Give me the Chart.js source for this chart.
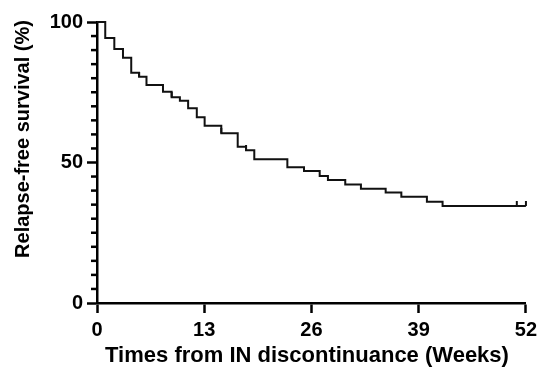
<!DOCTYPE html>
<html>
<head>
<meta charset="utf-8">
<script src="https://cdn.jsdelivr.net/npm/chart.js@4.4.1/dist/chart.umd.min.js"></script>
<style>
  html, body { margin: 0; padding: 0; background: #fff; }
  #kmChart { display: block; }
</style>
</head>
<body>
<canvas id="kmChart" width="542" height="377"></canvas>
<script>
// ========== DATA ==========
const weeks    = [0, 1.0, 2.1, 3.15, 4.15, 5.1, 6.0, 8.0, 9.05, 10.05, 11.05, 12.1, 13.05, 15.07, 17.06, 18.07, 19.07, 23.08, 25.1, 27.0, 28.0, 30.1, 32.0, 35.0, 36.9, 40.0, 41.9, 52];
const survival = [100, 94.3, 90.4, 87.3, 81.9, 80.5, 77.6, 75.2, 73.2, 72.0, 69.3, 66.1, 63.1, 60.4, 55.6, 54.4, 51.2, 48.3, 47.0, 45.2, 43.8, 42.2, 40.7, 39.3, 37.8, 36.0, 34.5, 34.5];
const censorWeeks    = [5.1, 9.05, 15.07, 18.07, 50.9, 52];
const censorSurvival = [80.5, 73.2, 60.4, 54.4, 34.5, 34.5];
const xTicks = [0, 13, 26, 39, 52];
const yTicks = [0, 50, 100];
const xTitle = 'Times from IN discontinuance (Weeks)';
const yTitle = 'Relapse-free survival (%)';

const FONT = "'Liberation Sans', Arial, Helvetica, sans-serif";

// small upward tick used for censored subjects
function censorMark() {
    const c = document.createElement('canvas');
    c.width = 4; c.height = 10;
    const g = c.getContext('2d');
    g.strokeStyle = '#111';
    g.lineWidth = 2;
    g.beginPath();
    g.moveTo(2, 0);
    g.lineTo(2, 5);
    g.stroke();
    return c;
}

// ========== MINOR TICKS + AXIS TITLES ==========
const decorPlugin = {
    id: 'decor',
    afterDraw(chart) {
        const { ctx, chartArea, scales } = chart;
        ctx.save();
        ctx.strokeStyle = '#000';
        ctx.lineWidth = 2.5;
        for (let v = 5; v < 100; v += 5) {
            if (v % 50 === 0) continue;
            const y = scales.y.getPixelForValue(v);
            ctx.beginPath();
            ctx.moveTo(chartArea.left, y);
            ctx.lineTo(chartArea.left - 6, y);
            ctx.stroke();
        }
        ctx.fillStyle = '#000';
        ctx.textAlign = 'center';
        ctx.textBaseline = 'middle';
        ctx.font = 'bold 22px ' + FONT;
        ctx.fillText(xTitle, 307, 356);
        ctx.translate(23, 139);
        ctx.rotate(-Math.PI / 2);
        ctx.font = 'bold 20px ' + FONT;
        ctx.fillText(yTitle, 0, 0);
        ctx.restore();
    }
};

// ========== CHART ==========
const ctx = document.getElementById('kmChart').getContext('2d');
new Chart(ctx, {
    type: 'line',
    data: {
        datasets: [{
            data: weeks.map((w, i) => ({ x: w, y: survival[i] })),
            stepped: 'before',
            borderColor: '#111',
            borderWidth: 2,
            pointRadius: 0,
            fill: false,
            clip: false
        }, {
            type: 'scatter',
            data: censorWeeks.map((w, i) => ({ x: w, y: censorSurvival[i] })),
            pointStyle: censorMark(),
            pointRadius: 5,
            clip: false
        }]
    },
    options: {
        responsive: false,
        animation: false,
        devicePixelRatio: 1,
        layout: { padding: { top: 22, right: 14, left: 0, bottom: 0 } },
        plugins: { legend: { display: false }, tooltip: { enabled: false } },
        scales: {
            x: {
                type: 'linear',
                min: 0, max: 52,
                afterFit: s => { s.height = 74; },
                afterBuildTicks: s => { s.ticks = xTicks.map(v => ({ value: v })); },
                ticks: { color: '#000', padding: 5, maxRotation: 0, font: { family: FONT, size: 20, weight: 'bold' } },
                grid: { drawOnChartArea: false, drawTicks: true, tickLength: 10, tickWidth: 2.5, tickColor: '#000' },
                border: { color: '#000', width: 2.5 }
            },
            y: {
                min: 0, max: 100,
                afterFit: s => { s.width = 97; },
                afterBuildTicks: s => { s.ticks = yTicks.map(v => ({ value: v })); },
                ticks: { color: '#000', padding: 4, font: { family: FONT, size: 20, weight: 'bold' } },
                grid: { drawOnChartArea: false, drawTicks: true, tickLength: 10, tickWidth: 2.5, tickColor: '#000' },
                border: { color: '#000', width: 2.5 }
            }
        }
    },
    plugins: [decorPlugin]
});
</script>
</body>
</html>
